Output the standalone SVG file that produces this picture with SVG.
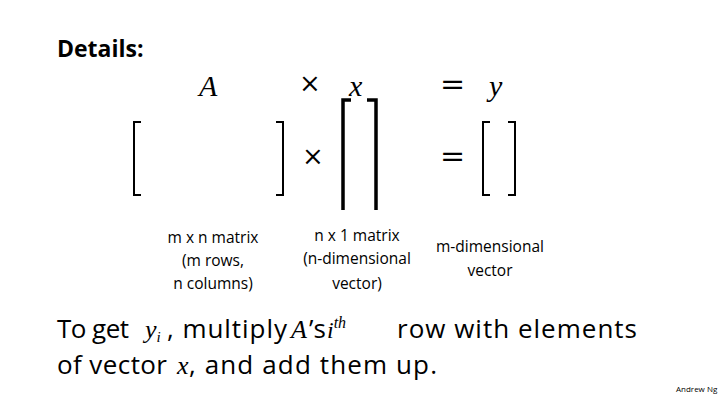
<svg xmlns="http://www.w3.org/2000/svg" width="720" height="405" viewBox="0 0 720 405">
<style>
.t{font-family:"Open Sans","Liberation Sans",sans-serif;fill:#000}
.m{font-family:"Liberation Serif",serif;font-style:italic;fill:#000}
.op{font-family:"DejaVu Serif",serif;fill:#000}
.b{fill:none;stroke:#000;stroke-width:2}
.bb{fill:none;stroke:#000;stroke-width:3.5}
.lbl{font-family:"Open Sans","Liberation Sans",sans-serif;font-size:15.5px;text-anchor:middle}
</style>
<rect width="720" height="405" fill="#fff"/>
<text class="t" x="57" y="57" font-size="23" font-weight="bold">Details:</text>
<g id="top">
<text class="m" x="199" y="96" font-size="30">A</text>
<text class="op" x="299" y="92" font-size="26">×</text>
<text class="m" x="349" y="96" font-size="30">x</text>
<text class="op" x="440" y="94" font-size="30">=</text>
<text class="m" x="489" y="96" font-size="30">y</text>
</g>
<g id="matrixA">
<path class="b" d="M141 122H134V195H141M276 122H283V195H276"/>
</g>
<g id="vectorX">
<path class="bb" d="M351 100H343V210M367 100H376V210"/>
</g>
<g id="vectorY">
<path class="b" d="M490 122H483V195H490M508 122H515V195H508"/>
</g>
<text class="op" x="302" y="165" font-size="26">×</text>
<text class="op" x="440" y="166" font-size="30">=</text>
<g id="labels">
<text class="lbl" x="213" y="243">m x n matrix</text>
<text class="lbl" x="213" y="266">(m rows,</text>
<text class="lbl" x="213" y="289">n columns)</text>
<text class="lbl" x="357" y="241">n x 1 matrix</text>
<text class="lbl" x="357" y="264">(n-dimensional</text>
<text class="lbl" x="357" y="289">vector)</text>
<text class="lbl" x="490" y="252">m-dimensional</text>
<text class="lbl" x="490" y="276">vector</text>
</g>
<text class="t" x="57" y="338" font-size="26" textLength="72">To get</text>
<text class="m" x="145" y="338" font-size="26">y<tspan font-size="15" dy="4">i</tspan></text>
<text class="t" x="167" y="338" font-size="26" textLength="120">, multiply</text>
<text class="m" x="291" y="338" font-size="26">A</text>
<text class="t" x="309" y="338" font-size="26">’s</text>
<text class="m" x="327" y="338" font-size="24">i<tspan font-size="16" dy="-10">th</tspan></text>
<text class="t" x="397" y="338" font-size="26" textLength="240">row with elements</text>
<text class="t" x="57" y="374" font-size="26" textLength="110">of vector</text>
<text class="m" x="177" y="374" font-size="26">x</text>
<text class="t" x="189" y="374" font-size="26" textLength="248">, and add them up.</text>
<text class="t" x="676" y="392" font-size="8">Andrew Ng</text>
</svg>
